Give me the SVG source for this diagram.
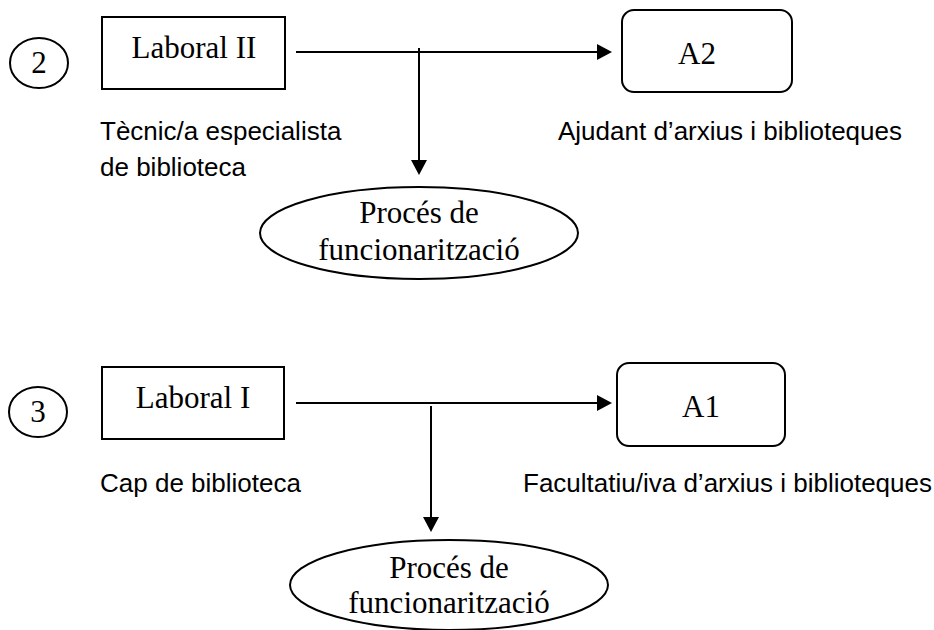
<svg xmlns="http://www.w3.org/2000/svg" width="934" height="630" viewBox="0 0 934 630">
<defs>
<style>
.shape{fill:#fff;stroke:#000;stroke-width:2}
.serif{font-family:"Liberation Serif","Times New Roman",serif;font-size:31px;fill:#000}
.sans{font-family:"Liberation Sans",Arial,sans-serif;font-size:26px;fill:#000}
.conn{stroke:#000;stroke-width:2;fill:none;marker-end:url(#arr)}
</style>
<marker id="arr" viewBox="0 0 15 16" refX="13" refY="8" markerWidth="15" markerHeight="16" markerUnits="userSpaceOnUse" orient="auto">
<path d="M0,0 L15,8 L0,16 Z" fill="#000"/>
</marker>
</defs>
<rect width="934" height="630" fill="#fff"/>
<g id="connectors">
<line class="conn" x1="296" y1="52" x2="610" y2="52"/>
<line class="conn" x1="419" y1="48" x2="419" y2="173"/>
<line class="conn" x1="296" y1="403" x2="610" y2="403"/>
<line class="conn" x1="431" y1="406" x2="431" y2="530"/>
</g>
<g id="n2">
<ellipse class="shape" cx="39" cy="63" rx="29" ry="25"/>
<text class="serif" x="39" y="73" text-anchor="middle">2</text>
</g>
<g id="laboral2">
<rect class="shape" x="102" y="17" width="183" height="72"/>
<text class="serif" x="194" y="58" text-anchor="middle">Laboral II</text>
</g>
<g id="label-tecnic">
<text class="sans" x="100" y="140">Tècnic/a especialista</text>
<text class="sans" x="100" y="176">de biblioteca</text>
</g>
<g id="a2">
<rect class="shape" x="622" y="10" width="170" height="82" rx="12"/>
<text class="serif" x="697" y="64" text-anchor="middle">A2</text>
</g>
<g id="label-ajudant">
<text class="sans" x="558" y="140">Ajudant d’arxius i biblioteques</text>
</g>
<g id="proces1">
<ellipse class="shape" cx="419" cy="233" rx="159" ry="46"/>
<text class="serif" x="419" y="223" text-anchor="middle">Procés de</text>
<text class="serif" x="419" y="260" text-anchor="middle">funcionarització</text>
</g>
<g id="n3">
<ellipse class="shape" cx="38" cy="412" rx="29" ry="25"/>
<text class="serif" x="38" y="422" text-anchor="middle">3</text>
</g>
<g id="laboral1">
<rect class="shape" x="102" y="367" width="182" height="72"/>
<text class="serif" x="193" y="408" text-anchor="middle">Laboral I</text>
</g>
<g id="label-cap">
<text class="sans" x="100" y="492">Cap de biblioteca</text>
</g>
<g id="a1">
<rect class="shape" x="617" y="363" width="168" height="83" rx="12"/>
<text class="serif" x="701" y="417" text-anchor="middle">A1</text>
</g>
<g id="label-facultatiu">
<text class="sans" x="523" y="492">Facultatiu/iva d’arxius i biblioteques</text>
</g>
<g id="proces2">
<ellipse class="shape" cx="449" cy="585" rx="159" ry="45"/>
<text class="serif" x="449" y="578" text-anchor="middle">Procés de</text>
<text class="serif" x="449" y="613" text-anchor="middle">funcionarització</text>
</g>
</svg>
